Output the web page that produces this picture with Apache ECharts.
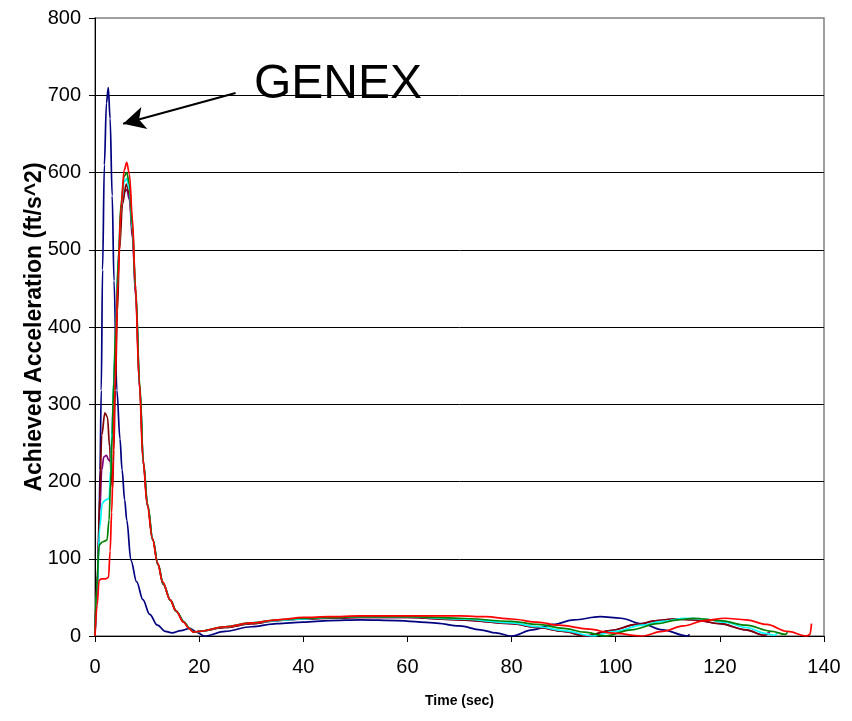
<!DOCTYPE html>
<html>
<head>
<meta charset="utf-8">
<script src="https://cdn.jsdelivr.net/npm/echarts@6/dist/echarts.min.js"></script>
<style>
  html, body { margin: 0; padding: 0; background: #fff; }
  #chart { width: 852px; height: 721px; }
</style>
</head>
<body>
<div id="chart"></div>
<script>
// Axis ticks
const xTicks = [0, 20, 40, 60, 80, 100, 120, 140];
const yTicks = [0, 100, 200, 300, 400, 500, 600, 700, 800];

// GENEX run (navy)
const genexTime = [0, 0.4, 0.75, 0.96, 1.2, 1.45, 1.8, 2.2, 2.55, 2.9, 3.3, 3.65, 4.2, 4.8, 5.2, 5.7, 6.1, 6.9, 8.0, 9.2, 10.5, 12, 13.5, 14.8, 16.5, 18.2, 19.5, 21, 25, 30, 35, 40, 45, 51, 58, 65, 70, 74, 77, 80, 84, 88, 92, 97, 101, 105, 109, 113.7, 114.2];
const genexAccel = [0, 50, 130, 215, 318, 474, 610, 690, 710, 670, 570, 460, 318, 255, 215, 176, 150, 98, 70, 47, 28, 14, 6, 4, 7, 10, 5, 0, 6, 12, 16, 18, 20, 21, 20, 17, 13, 8, 4, 0, 8, 15, 21, 25, 23, 16, 8, 0, 2];

// Maroon run
const maroonTime = [0, 0.5, 0.9, 1.3, 1.9, 2.4, 2.8, 3.2, 3.4, 3.6, 3.9, 4.3, 4.7, 5.3, 6.0, 6.6, 7.2, 7.8, 8.6, 9.3, 10.1, 11.1, 12.1, 13.1, 14.5, 15.6, 17.1, 18.1, 19, 20, 25, 30, 35, 40, 45, 51, 60, 70, 80, 85, 90, 94, 99, 104, 108, 111, 115, 120, 125, 128.5, 129.3];
const maroonAccel = [0, 80, 180, 260, 289, 283, 245, 200, 193, 240, 318, 420, 500, 560, 585, 572, 520, 445, 320, 222, 168, 124, 92, 67, 46, 32, 18, 10, 5, 6, 11, 16, 20, 22, 23, 24, 24, 21, 16, 11, 6, 0, 7, 15, 20, 22, 21, 16, 8, 1, 4];

// Purple run
const purpleTime = [0, 0.4, 0.9, 1.3, 1.7, 2.2, 2.6, 2.9, 3.2, 3.5, 3.8, 4.1, 4.6, 5.1, 5.6, 6.1, 6.6, 7.2, 7.8, 8.6, 9.3, 10.1, 11.1, 12.1, 13.1, 14.5, 15.6, 17.1, 18.1, 19, 20, 25, 30, 35, 40, 45, 51, 60, 70, 80, 85, 90, 94.5, 99, 104, 108, 111, 115, 120, 125, 128.5, 129.6];
const purpleAccel = [0, 70, 160, 215, 232, 234, 228, 226, 250, 300, 360, 420, 500, 555, 575, 578, 565, 515, 440, 318, 222, 168, 124, 92, 67, 46, 32, 18, 10, 5, 6, 11, 16, 20, 22, 23, 24, 24, 21, 16, 11, 6, 0, 7, 15, 20, 22, 21, 16, 8, 1, 5];

// Cyan run
const cyanTime = [0, 0.4, 0.9, 1.4, 2.0, 2.7, 3.0, 3.3, 3.6, 4.0, 4.5, 5.0, 5.6, 6.1, 6.6, 7.2, 7.8, 8.6, 9.3, 10.1, 11.1, 12.1, 13.1, 14.5, 15.6, 17.1, 18.1, 19, 20, 25, 30, 35, 40, 45, 51, 60, 70, 80, 85, 90, 95.6, 100, 105, 109, 113, 117, 121, 125, 129, 130.5, 131];
const cyanAccel = [0, 60, 140, 172, 176, 178, 215, 270, 330, 400, 490, 555, 588, 592, 578, 525, 448, 322, 224, 170, 125, 93, 68, 46, 32, 18, 10, 5, 6, 12, 17, 20, 22, 24, 25, 25, 22, 17, 12, 7, 0, 6, 14, 19, 23, 22, 18, 11, 3, 1, 4];

// Green run
const greenTime = [0, 0.3, 0.8, 1.5, 2.3, 2.7, 3.0, 3.3, 3.6, 4.0, 4.5, 5.0, 5.6, 6.1, 6.6, 7.2, 7.8, 8.6, 9.3, 10.1, 11.1, 12.1, 13.1, 14.5, 15.6, 17.1, 18.1, 19, 20, 25, 30, 35, 40, 45, 51, 60, 70, 80, 85, 90, 94, 98, 103, 108, 112, 115, 120, 125, 130, 132.5, 133];
const greenAccel = [0, 60, 118, 122, 124, 150, 200, 260, 330, 400, 490, 560, 595, 600, 585, 530, 450, 325, 225, 170, 125, 93, 68, 46, 32, 18, 10, 5, 6, 12, 17, 21, 23, 24, 25, 25, 23, 19, 15, 10, 5, 0, 8, 16, 21, 23, 20, 14, 6, 2, 5];

// Red run
const redTime = [0, 0.4, 0.8, 1.2, 2.0, 2.6, 2.9, 3.2, 3.5, 3.8, 4.4, 5.0, 5.6, 6.1, 6.6, 7.2, 7.7, 8.5, 9.2, 10, 11, 12, 13, 14.4, 15.5, 17, 18, 18.9, 20, 25, 30, 35, 40, 45, 51, 60, 70, 75, 80, 85, 89, 95, 99, 105, 109, 113, 117, 121, 125, 129, 133, 136.7, 137.3, 137.6];
const redAccel = [0, 40, 72, 74, 74, 76, 110, 160, 228, 318, 460, 555, 603, 613, 598, 540, 460, 330, 230, 172, 127, 95, 70, 47, 33, 18, 10, 5, 6, 12, 17, 21, 24, 25, 26, 26, 26, 25, 22, 18, 14, 9, 4, 0, 6, 13, 20, 23, 21, 15, 6, 0, 2, 16];

// Arrow pointing at the GENEX peak (data coordinates: start, tip)
const arrowStart = [27.0, 703];
const arrowTip = [5.4, 663];

const FONT = "'Liberation Sans', Arial, sans-serif";

function pairs(t, a) {
  return t.map((v, i) => [v, a[i]]);
}

function run(name, color, t, a, extra) {
  return Object.assign({
    name: name,
    type: 'line',
    data: pairs(t, a),
    showSymbol: false,
    smooth: 0.35,
    smoothMonotone: 'x',
    lineStyle: { color: color, width: 1.7 },
    itemStyle: { color: color },
    silent: true,
    animation: false
  }, extra || {});
}

const chart = echarts.init(document.getElementById('chart'), null, { renderer: 'canvas' });

chart.setOption({
  animation: false,
  backgroundColor: '#ffffff',
  grid: {
    left: 95, right: 28, top: 18, bottom: 85,
    show: true, borderColor: '#808080', borderWidth: 1.5, backgroundColor: 'transparent'
  },
  xAxis: {
    type: 'value',
    min: xTicks[0], max: xTicks[xTicks.length - 1], interval: 20,
    name: 'Time (sec)', nameLocation: 'middle', nameGap: 58, nameMoveOverlap: false,
    nameTextStyle: { fontFamily: FONT, fontSize: 14, fontWeight: 'bold', color: '#000' },
    axisLine: { lineStyle: { color: '#000', width: 1 } },
    axisTick: { show: true, inside: false, length: 6, lineStyle: { color: '#000' } },
    axisLabel: { fontFamily: FONT, fontSize: 20, color: '#000', margin: 21 },
    splitLine: { show: false }
  },
  yAxis: {
    type: 'value',
    min: yTicks[0], max: yTicks[yTicks.length - 1], interval: 100,
    name: 'Achieved Acceleration (ft/s^2)', nameLocation: 'middle', nameGap: 49, nameMoveOverlap: false,
    nameTextStyle: { fontFamily: FONT, fontSize: 23, fontWeight: 'bold', color: '#000' },
    axisLine: { show: true, lineStyle: { color: '#000', width: 1 } },
    axisTick: { show: true, inside: false, length: 6, lineStyle: { color: '#000' } },
    axisLabel: { fontFamily: FONT, fontSize: 20, color: '#000', margin: 14 },
    splitLine: { show: true, showMaxLine: false, lineStyle: { color: '#000', width: 1 } }
  },
  graphic: [{
    type: 'text',
    left: 254, top: 61,
    style: { text: 'GENEX', font: '48px ' + FONT, fill: '#000' },
    silent: true
  }],
  series: [
    run('GENEX', '#000080', genexTime, genexAccel, {
      markLine: {
        silent: true,
        symbol: ['none', 'arrow'],
        symbolSize: [17, 22],
        label: { show: false },
        lineStyle: { color: '#000', width: 2, type: 'solid' },
        data: [[{ coord: arrowStart }, { coord: arrowTip }]]
      }
    }),
    run('Run 6', '#800080', purpleTime, purpleAccel),
    run('Run 5', '#800000', maroonTime, maroonAccel),
    run('Run 4', '#00FFFF', cyanTime, cyanAccel),
    run('Run 3', '#008000', greenTime, greenAccel),
    run('Run 2', '#FF0000', redTime, redAccel)
  ]
});
</script>
</body>
</html>
